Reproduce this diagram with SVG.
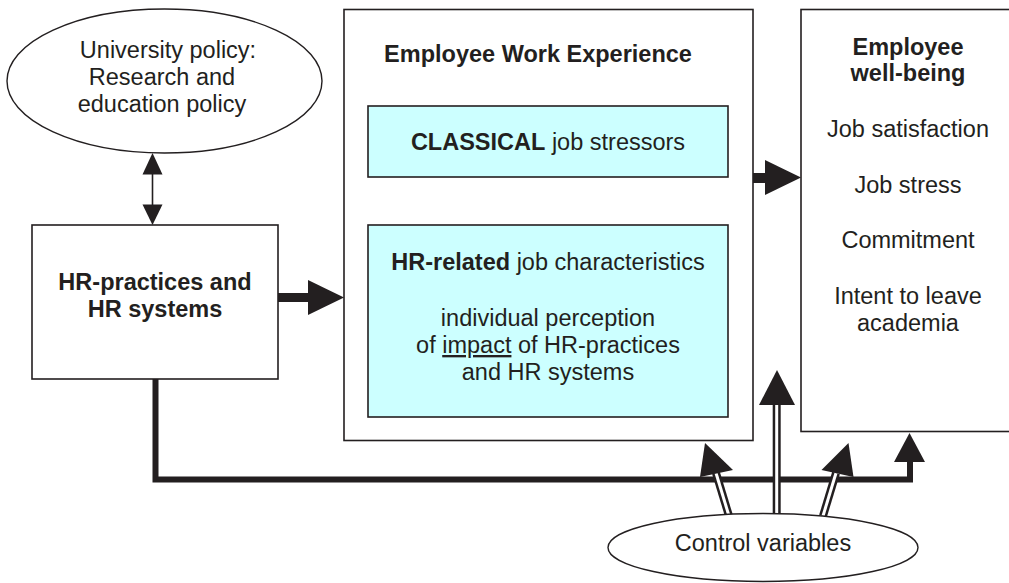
<svg xmlns="http://www.w3.org/2000/svg" width="1009" height="583" viewBox="0 0 1009 583">
<style>
text{font-family:"Liberation Sans",Arial,sans-serif;font-size:23.5px;fill:#231f20;text-anchor:middle}
.b{font-weight:bold}
.box{fill:#fff;stroke:#231f20;stroke-width:1.6}
.cy{fill:#ccffff;stroke:#231f20;stroke-width:1.6}
.ell{fill:#fff;stroke:#231f20;stroke-width:1.4}
.ln{stroke:#231f20;fill:none}
.hd{fill:#231f20;stroke:none}
.dbo{stroke:#231f20;stroke-width:8;fill:none}
.dbi{stroke:#fff;stroke-width:3;fill:none}
</style>
<rect width="1009" height="583" fill="#fff"/>
<g id="connectors">
<line class="ln" x1="152.5" y1="172" x2="152.5" y2="207" stroke-width="1.6"/>
<polygon class="hd" points="152.5,153 142.5,174.5 162.5,174.5"/>
<polygon class="hd" points="152.5,225 142.5,204.5 162.5,204.5"/>
<line class="ln" x1="278" y1="297.5" x2="310" y2="297.5" stroke-width="9"/>
<polygon class="hd" points="308,280 344,297.5 308,315"/>
<line class="ln" x1="753" y1="178" x2="767" y2="178" stroke-width="10"/>
<polygon class="hd" points="765,160 801,177.5 765,195"/>
<path class="ln" d="M155.5,379 V479.5 H910 V460" stroke-width="6" stroke-linejoin="miter"/>
<polygon class="hd" points="894,462 909.5,433 925,462"/>
<line class="dbo" x1="776.7" y1="516" x2="776.7" y2="403"/>
<line class="dbi" x1="776.7" y1="516" x2="776.7" y2="403"/>
<polygon class="hd" points="759,405 777,370 795,405"/>
<line class="dbo" x1="729" y1="516" x2="716" y2="473"/>
<line class="dbi" x1="729" y1="516" x2="716" y2="473"/>
<polygon class="hd" points="705,443 700,477 733,470"/>
<line class="dbo" x1="823" y1="516" x2="836" y2="473"/>
<line class="dbi" x1="823" y1="516" x2="836" y2="473"/>
<polygon class="hd" points="848.5,443 821.5,470 853.5,477"/>
</g>
<g id="university-policy">
<ellipse class="ell" cx="164.5" cy="81" rx="157.5" ry="72"/>
<text x="168" y="58">University policy:</text>
<text x="162" y="85">Research and</text>
<text x="162" y="112">education policy</text>
</g>
<g id="hr-practices">
<rect class="box" x="32" y="225" width="246" height="154"/>
<text class="b" x="155" y="290">HR-practices and</text>
<text class="b" x="155" y="317">HR systems</text>
</g>
<g id="employee-work-experience">
<rect class="box" x="344" y="9.5" width="409" height="431"/>
<text class="b" x="538" y="62">Employee Work Experience</text>
</g>
<g id="classical-stressors">
<rect class="cy" x="368" y="106" width="360" height="71"/>
<text x="548" y="150"><tspan class="b">CLASSICAL</tspan> job stressors</text>
</g>
<g id="hr-related">
<rect class="cy" x="368" y="225" width="360" height="192"/>
<text x="548" y="270"><tspan class="b">HR-related</tspan> job characteristics</text>
<text x="548" y="326">individual perception</text>
<text x="548" y="353">of <tspan text-decoration="underline">impact</tspan> of HR-practices</text>
<text x="548" y="380">and HR systems</text>
</g>
<g id="employee-well-being">
<rect class="box" x="801" y="9.5" width="215" height="422"/>
<text class="b" x="908" y="55">Employee</text>
<text class="b" x="908" y="81">well-being</text>
<text x="908" y="137">Job satisfaction</text>
<text x="908" y="193">Job stress</text>
<text x="908" y="248">Commitment</text>
<text x="908" y="304">Intent to leave</text>
<text x="908" y="331">academia</text>
</g>
<g id="control-variables">
<ellipse class="ell" cx="763" cy="547.5" rx="155" ry="34"/>
<text x="763" y="551">Control variables</text>
</g>
</svg>
